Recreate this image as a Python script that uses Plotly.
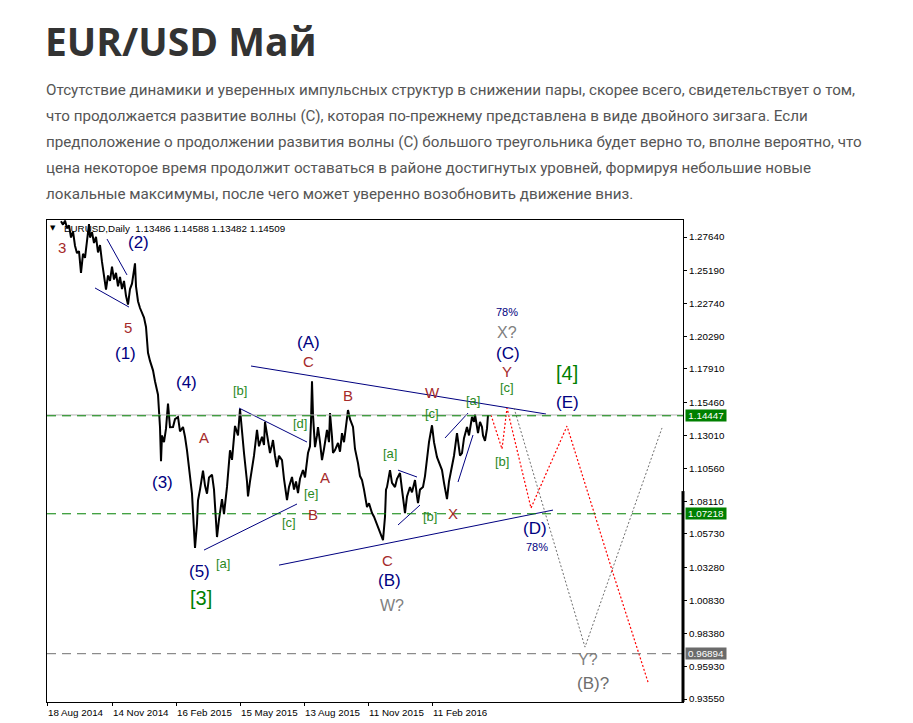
import plotly.graph_objects as go

# ---------------- data ----------------
bar_index = [14,16,18,20,22,24,26,28,30,32,34,36,38,40,42,43,45,47,49,51,53,55,57,59,61,63,65,67,69,71,73,75,77,79,81,83,85,87,88,89,91,93,95,97,99,101,103,106,108,110,111,112,113,114,115,117,119,121,123,126,128,131,133,136,138,140,143,145,147,148,150,151,153,156,158,160,162,165,167,169,170,172,174,175,177,178,180,183,185,188,191,193,195,197,200,201,203,205,207,210,212,215,217,218,220,223,225,226,228,230,232,235,237,240,242,245,247,249,251,253,256,258,261,263,264,265,266,268,270,271,273,275,277,278,280,282,283,285,286,288,291,293,295,297,299,301,303,306,308,311,313,315,317,320,322,325,327,329,331,333,336,338,339,340,343,345,348,350,353,355,358,360,363,365,368,370,371,373,376,378,380,382,385,387,390,392,395,397,400,402,405,407,410,412,413,415,417,420,422,425,427,428,430,431,433,435,436,438,440,441]
price = [1.2880,1.2855,1.2885,1.2830,1.2850,1.2760,1.2805,1.2700,1.2645,1.2660,1.2500,1.2640,1.2610,1.2730,1.2860,1.2760,1.2800,1.2720,1.2765,1.2650,1.2705,1.2580,1.2470,1.2375,1.2480,1.2440,1.2545,1.2450,1.2500,1.2400,1.2470,1.2380,1.2440,1.2330,1.2265,1.2380,1.2420,1.2540,1.2570,1.2400,1.2290,1.2240,1.2200,1.2170,1.2100,1.1910,1.1850,1.1780,1.1700,1.1630,1.1600,1.1480,1.1360,1.1110,1.1300,1.1250,1.1350,1.1535,1.1360,1.1362,1.1420,1.1436,1.1330,1.1362,1.1290,1.1190,1.1000,1.0870,1.0600,1.0470,1.0650,1.0820,1.0900,1.1040,1.0930,1.0870,1.0990,1.1010,1.0900,1.0700,1.0550,1.0680,1.0800,1.0830,1.0720,1.0780,1.0920,1.1190,1.1120,1.1370,1.1300,1.1495,1.1300,1.1170,1.0960,1.0850,1.0960,1.1040,1.1150,1.1340,1.1220,1.1290,1.1230,1.1400,1.1300,1.1170,1.1230,1.1266,1.1150,1.1067,1.1150,1.1118,1.0980,1.0823,1.0920,1.0993,1.0900,1.0960,1.0875,1.0980,1.1044,1.0990,1.1170,1.1220,1.1400,1.1700,1.1450,1.1214,1.1300,1.1362,1.1250,1.1118,1.1200,1.1250,1.1340,1.1250,1.1465,1.1290,1.1170,1.1192,1.1244,1.1180,1.1317,1.1250,1.1380,1.1487,1.1420,1.1362,1.1200,1.1096,1.1000,1.0971,1.0900,1.0771,1.0800,1.0727,1.0700,1.0660,1.0624,1.0590,1.0528,1.0700,1.0900,1.0919,1.1044,1.0950,1.0919,1.0980,1.1022,1.0900,1.0727,1.0850,1.0919,1.0880,1.0971,1.0850,1.0801,1.0900,1.0919,1.1000,1.1140,1.1250,1.1375,1.1250,1.1140,1.1100,1.1044,1.0950,1.0830,1.0960,1.1067,1.1150,1.1317,1.1220,1.1150,1.1170,1.1280,1.1362,1.1300,1.1436,1.1400,1.1455,1.1350,1.1317,1.1400,1.1362,1.1300,1.1260,1.1350,1.1451]

# forecast paths
red_idx = [444, 455, 460, 484, 520, 565, 601]
red_price = [1.1451, 1.1200, 1.1502, 1.0764, 1.1369, 1.0307, 0.9480]
gray_idx = [467, 538, 615]
gray_price = [1.1502, 0.9738, 1.1355]

# trend lines (pairs of points)
trend_idx = [[204, 499], [232, 506], [60, 80], [48, 82], [192, 260], [157, 250],
             [351, 370], [351, 373], [398, 421], [411, 426]]
trend_price = [[1.1812, 1.1458], [1.0343, 1.0749], [1.2749, 1.2484], [1.2388, 1.2247],
               [1.1502, 1.1251], [1.0454, 1.0794], [1.1044, 1.0993], [1.0639, 1.0786],
               [1.1281, 1.1465], [1.0956, 1.1303]]

# horizontal levels
level_green = [1.14447, 1.07218]
level_gray = [0.96894]
bid_price = 1.14509

# axis
y_ticks = [1.27640, 1.25190, 1.22740, 1.20290, 1.17910, 1.15460, 1.13010, 1.10560,
           1.08110, 1.05730, 1.03280, 1.00830, 0.98380, 0.95930, 0.93550]
date_idx = [0, 65, 129, 193, 257, 321, 385]
date_labels = ["18 Aug 2014", "14 Nov 2014", "16 Feb 2015", "15 May 2015",
               "13 Aug 2015", "11 Nov 2015", "11 Feb 2016"]

# wave labels
NAVY, BROWN, GREEN, DGREEN, GRAY = "#000080", "#A52A2A", "#2A8A1E", "#008000", "#808080"
wave_text = ["3", "(2)", "5", "(1)", "(A)", "C", "(4)", "[b]", "A", "[d]", "(3)", "A", "[e]",
             "B", "[c]", "[a]", "(5)", "[3]", "78%", "X?", "(C)", "Y", "[c]", "B", "W", "[a]",
             "[c]", "[4]", "(E)", "[a]", "[b]", "[b]", "X", "(D)", "78%", "C", "(B)", "W?",
             "Y?", "(B)?"]
wave_idx = [15, 91, 81, 78, 261, 261, 139, 193, 157, 253, 115, 278, 264,
            266, 242, 176, 152, 154, 460, 460, 461, 460, 460, 301, 385, 426,
            385, 520, 520, 343, 455, 383, 406, 488, 490, 340, 342, 345,
            541, 546]
wave_price = [1.2683, 1.2720, 1.2100, 1.1908, 1.1989, 1.1842, 1.1694, 1.1635, 1.1281, 1.1391,
              1.0949, 1.0993, 1.0875, 1.0720, 1.0661, 1.0358, 1.0299, 1.0100, 1.2211, 1.2063,
              1.1908, 1.1775, 1.1650, 1.1598, 1.1613, 1.1561, 1.1465, 1.1760, 1.1546, 1.1163,
              1.1111, 1.0705, 1.0727, 1.0616, 1.0476, 1.0380, 1.0233, 1.0048, 0.9650, 0.9473]
wave_color = [BROWN, NAVY, BROWN, NAVY, NAVY, BROWN, NAVY, GREEN, BROWN, GREEN, NAVY, BROWN, GREEN,
              BROWN, GREEN, GREEN, NAVY, DGREEN, NAVY, GRAY, NAVY, BROWN, GREEN, BROWN, BROWN, GREEN,
              GREEN, DGREEN, NAVY, GREEN, GREEN, GREEN, BROWN, NAVY, NAVY, BROWN, NAVY, GRAY,
              GRAY, "#6E6E6E"]
wave_size = [15, 17, 15, 17, 17, 15, 17, 13, 15, 13, 17, 15, 13,
             15, 13, 13, 17, 20, 11, 16, 17, 15, 13, 15, 15, 13,
             13, 20, 17, 13, 13, 13, 15, 17, 11, 15, 17, 16,
             16, 17]

title = "EUR/USD Май"
paragraph = [
    "Отсутствие динамики и уверенных импульсных структур в снижении пары, скорее всего, свидетельствует о том,",
    "что продолжается развитие волны (С), которая по-прежнему представлена в виде двойного зигзага. Если",
    "предположение о продолжении развития волны (С) большого треугольника будет верно то, вполне вероятно, что",
    "цена некоторое время продолжит оставаться в районе достигнутых уровней, формируя небольшие новые",
    "локальные максимумы, после чего может уверенно возобновить движение вниз.",
]
header = "EURUSD,Daily&nbsp;&nbsp;1.13486 1.14588 1.13482 1.14509"

# ---------------- figure ----------------
# the page body has an 8px margin: the figure is placed at (8, 8) in the window
OFF = 8
W, H = 913 - OFF, 723 - OFF
PL, PT, PR, PB = 47, 220, 683, 702          # plot box in window pixels
L, T = PL - OFF, PT - OFF
R, B = W - (PR - OFF), H - (PB - OFF)
X_RANGE = [0, 636]
Y_RANGE = [0.93329, 1.28895]

def px_x(px):
    return (px - PL) / (PR - PL)

def px_y(py):
    return (PB - py) / (PB - PT)

fig = go.Figure()

# trend lines
tx, ty = [], []
for a, b in zip(trend_idx, trend_price):
    tx += a + [None]
    ty += b + [None]
fig.add_trace(go.Scatter(x=tx, y=ty, mode="lines", line=dict(color=NAVY, width=1),
                         hoverinfo="skip", showlegend=False))

# forecast paths
fig.add_trace(go.Scatter(x=gray_idx, y=gray_price, mode="lines",
                         line=dict(color="#6E6E6E", width=1, dash="2px,2px"),
                         hoverinfo="skip", showlegend=False))
fig.add_trace(go.Scatter(x=red_idx, y=red_price, mode="lines",
                         line=dict(color="#FF0000", width=1.2, dash="2px,2px"),
                         hoverinfo="skip", showlegend=False))

# price
fig.add_trace(go.Scatter(x=bar_index, y=price, mode="lines",
                         line=dict(color="black", width=2), showlegend=False))

shapes = []
shapes.append(dict(type="line", xref="paper", x0=0, x1=1, yref="y", y0=bid_price, y1=bid_price,
                   line=dict(color="#B4B4B4", width=1)))
for lv in level_green:
    shapes.append(dict(type="line", xref="paper", x0=0, x1=1, yref="y", y0=lv, y1=lv,
                       line=dict(color="#008000", width=1, dash="9px,6px")))
for lv in level_gray:
    shapes.append(dict(type="line", xref="paper", x0=0, x1=1, yref="y", y0=lv, y1=lv,
                       line=dict(color="#707070", width=1, dash="9px,6px")))
shapes.append(dict(type="line", xref="paper", x0=1, x1=1, yref="y", y0=1.0889, y1=Y_RANGE[0],
                   line=dict(color="black", width=3)))

ann = []
CH = "Liberation Sans, Arial, sans-serif"
for t, i, p, c, s in zip(wave_text, wave_idx, wave_price, wave_color, wave_size):
    ann.append(dict(x=i, y=p, xref="x", yref="y", text=t, showarrow=False,
                    font=dict(family=CH, size=s, color=c), xanchor="center", yanchor="middle"))

# price-scale boxes
for lv, bg in [(level_green[0], "#008000"), (level_green[1], "#008000"), (level_gray[0], "#6B6B6B")]:
    ann.append(dict(x=px_x(685), y=lv, xref="paper", yref="y", text=f"{lv:.5f}", showarrow=False,
                    xanchor="left", yanchor="middle", width=40, height=11, align="center",
                    bgcolor=bg, borderpad=0,
                    font=dict(family=CH, size=9.8, color="white")))

# date labels
for i, lab in zip(date_idx, date_labels):
    ann.append(dict(x=i, y=px_y(712), xref="x", yref="paper", text=lab, showarrow=False,
                    xanchor="left", yanchor="middle", xshift=-1,
                    font=dict(family=CH, size=9.8, color="black")))

# header
ann.append(dict(x=px_x(53), y=px_y(228), xref="paper", yref="paper", text="▼", showarrow=False,
                xanchor="center", yanchor="middle", font=dict(family="DejaVu Sans", size=7, color="black")))
ann.append(dict(x=px_x(62), y=px_y(228), xref="paper", yref="paper", text=header, showarrow=False,
                xanchor="left", yanchor="middle", font=dict(family=CH, size=9.8, color="black")))

# page title and paragraph
ann.append(dict(x=px_x(43), y=px_y(40), xref="paper", yref="paper", text="<b>" + title + "</b>",
                showarrow=False, xanchor="left", yanchor="middle",
                font=dict(family="Open Sans", size=39, color="#333333")))
for k, line in enumerate(paragraph):
    ann.append(dict(x=px_x(44), y=px_y(90 + 26 * k), xref="paper", yref="paper", text=line,
                    showarrow=False, xanchor="left", yanchor="middle",
                    font=dict(family="Roboto", size=15.2, color="#555555")))

fig.update_layout(
    width=W, height=H, autosize=False,
    margin=dict(l=L, r=R, t=T, b=B),
    paper_bgcolor="white", plot_bgcolor="white",
    shapes=shapes, annotations=ann, showlegend=False,
    xaxis=dict(range=X_RANGE, showgrid=False, zeroline=False, showline=True, linecolor="black",
               linewidth=1, mirror=True, ticks="outside", ticklen=3, tickcolor="black",
               tickvals=date_idx, ticktext=[""] * len(date_idx), fixedrange=True),
    yaxis=dict(range=Y_RANGE, side="right", showgrid=False, zeroline=False, showline=True,
               linecolor="black", linewidth=1, mirror=True, ticks="outside", ticklen=3,
               tickcolor="black", tickvals=y_ticks, ticktext=[f"{v:.5f}" for v in y_ticks],
               tickfont=dict(family=CH, size=9.8, color="black"), fixedrange=True),
)

fig.write_html("out.html")
